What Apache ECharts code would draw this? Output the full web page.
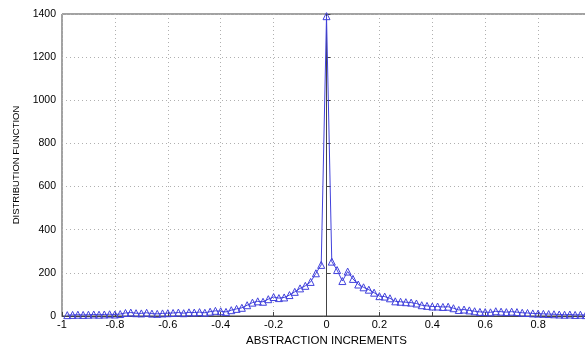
<!DOCTYPE html>
<html>
<head>
<meta charset="utf-8">
<script src="https://cdn.jsdelivr.net/npm/echarts@6/dist/echarts.min.js"></script>
<style>html,body{margin:0;padding:0;background:#fff;}#c{width:585px;height:344px;}</style>
</head>
<body>
<div id="c"></div>
<script>
// bin centres from -0.98 to 0.98, step 0.02
var increments = [];
for (var i = -49; i <= 49; i++) { increments.push(Math.round(i * 2) / 100); }
var distribution = [
  4, 5, 6, 5, 6, 7, 6, 7, 8, 7,
  9, 14, 16, 13, 12, 15, 11, 10, 12, 13,
  14, 16, 13, 17, 16, 18, 15, 20, 24, 22,
  19, 27, 33, 38, 50, 62, 68, 66, 78,
  88, 83, 86, 97, 112, 128, 140, 158, 198, 237,
  1390,
  252, 213, 162, 206, 172, 146, 133, 122, 108, 92,
  90, 82, 68, 66, 64, 62, 58, 50, 47, 44,
  44, 42, 43, 36, 28, 30, 26, 22, 19, 18,
  17, 22, 20, 18, 20, 18, 15, 14, 12, 11,
  10, 9, 8, 7, 6, 7, 5, 6, 4
];
var xTicks = [-1, -0.8, -0.6, -0.4, -0.2, 0, 0.2, 0.4, 0.6, 0.8, 1];
var yTicks = [0, 200, 400, 600, 800, 1000, 1200, 1400];

var pts = increments.map(function (x, k) { return [x, distribution[k]]; });
var chart = echarts.init(document.getElementById('c'), null, {renderer: 'canvas'});
var font = 'Liberation Sans, Arial, sans-serif';
chart.setOption({
  animation: false,
  backgroundColor: '#fff',
  grid: {left: 62, top: 14, width: 529, bottom: 28, show: true, borderColor: '#444', borderWidth: 1,
         outerBoundsMode: 'none', containLabel: false},
  xAxis: {
    type: 'value', min: -1, max: 1, interval: 0.2,
    name: 'ABSTRACTION INCREMENTS', nameLocation: 'middle', nameGap: 15,
    nameTextStyle: {fontFamily: font, fontSize: 11.5, color: '#000'},
    axisLine: {show: true, lineStyle: {color: '#444', width: 1}},
    axisTick: {show: true, inside: true, length: 4, lineStyle: {color: '#444'}},
    axisLabel: {fontFamily: font, fontSize: 11, color: '#000', margin: 3,
      formatter: function (v) { var r = Math.round(v * 10) / 10; return xTicks.indexOf(r) >= 0 ? String(r) : ''; }},
    splitLine: {show: true, lineStyle: {type: [1, 3], color: '#b0b0b0', width: 1}}
  },
  yAxis: {
    type: 'value', min: 0, max: 1400, interval: 200,
    name: 'DISTRIBUTION FUNCTION', nameLocation: 'middle', nameGap: 41,
    nameTextStyle: {fontFamily: font, fontSize: 9.5, color: '#000'},
    axisLine: {show: true, lineStyle: {color: '#444', width: 1}},
    axisTick: {show: true, inside: true, length: 4, lineStyle: {color: '#444'}},
    axisLabel: {fontFamily: font, fontSize: 10.5, color: '#000', margin: 6,
      formatter: function (v) { return yTicks.indexOf(v) >= 0 ? String(v) : ''; }},
    splitLine: {show: true, lineStyle: {type: [1, 3], color: '#b0b0b0', width: 1}}
  },
  series: [{
    type: 'line', data: pts, symbol: 'triangle', symbolSize: 7, showAllSymbol: true,
    lineStyle: {color: '#4242dc', width: 1},
    itemStyle: {color: 'rgba(255,255,255,0)', borderColor: '#4242dc', borderWidth: 1}
  }]
});
</script>
</body>
</html>
